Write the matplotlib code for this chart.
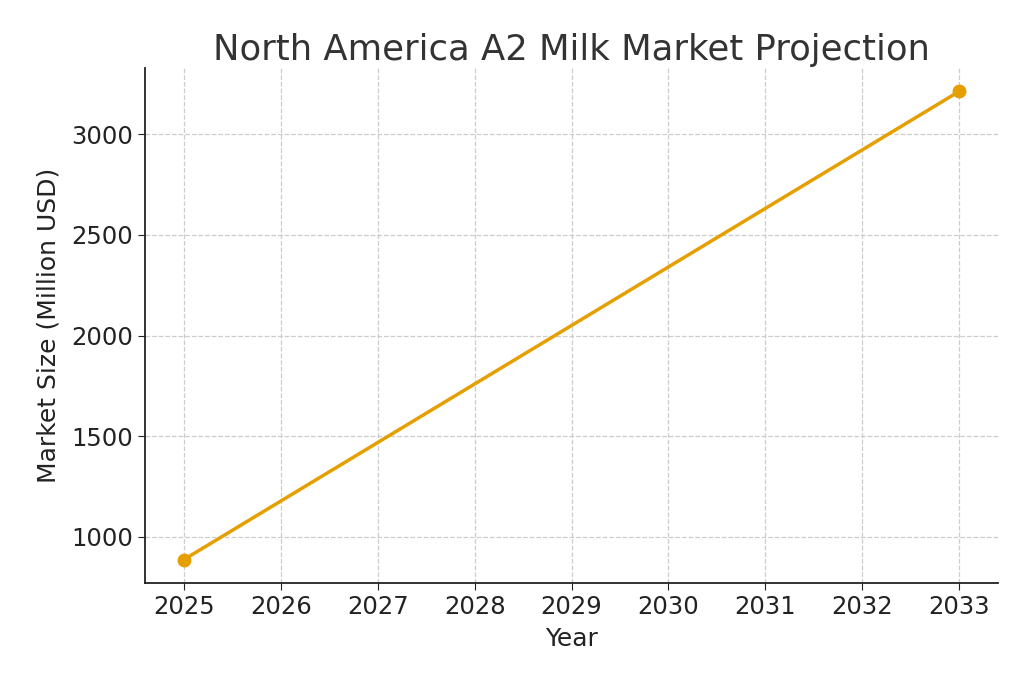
import matplotlib
matplotlib.use("Agg")
import matplotlib.pyplot as plt

years = [2025, 2033]
market_size = [886, 3214]
xticks = list(range(2025, 2034))

fig = plt.figure(figsize=(10.24, 6.83), dpi=100)
ax = fig.add_axes([145/1024, 1-583/683, (998-145)/1024, (583-68)/683])
ax.plot(years, market_size, color="#E69F00", linewidth=2.5, marker="o", markersize=9)
ax.set_xticks(xticks)
ax.set_xlim(2024.6, 2033.4)
ax.set_ylim(770, 3330)
ax.set_yticks([1000, 1500, 2000, 2500, 3000])
ax.grid(True, linestyle="--", color="#cccccc", linewidth=0.9)
ax.spines["top"].set_visible(False)
ax.spines["right"].set_visible(False)
for s in ("left", "bottom"):
    ax.spines[s].set_color("#222222")
    ax.spines[s].set_linewidth(1.3)
ax.tick_params(labelsize=17.5, colors="#222222", length=5)
ax.set_xlabel("Year", fontsize=18, color="#222222", labelpad=6)
ax.set_ylabel("Market Size (Million USD)", fontsize=18, color="#222222", labelpad=8)
ax.set_title("North America A2 Milk Market Projection", fontsize=25.5, color="#333333", pad=6)
fig.savefig("out.png", dpi=100)
